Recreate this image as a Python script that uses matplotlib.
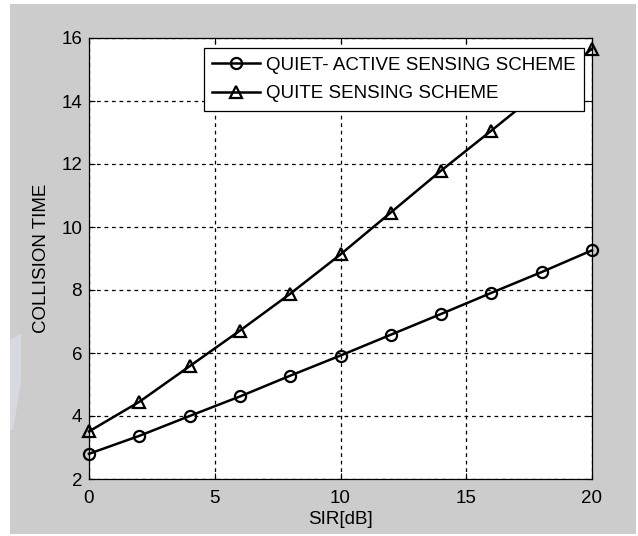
import matplotlib
matplotlib.use("Agg")
import matplotlib.pyplot as plt
from matplotlib.patches import Rectangle, Polygon

plt.rcParams['font.family'] = ['Liberation Sans', 'DejaVu Sans']

sir = [0, 2, 4, 6, 8, 10, 12, 14, 16, 18, 20]
quiet_active = [2.80, 3.37, 4.00, 4.62, 5.28, 5.92, 6.58, 7.24, 7.91, 8.57, 9.26]
quite_sensing = [3.51, 4.45, 5.58, 6.71, 7.88, 9.13, 10.46, 11.79, 13.06, 14.35, 15.66]
labels = ["QUIET- ACTIVE SENSING SCHEME", "QUITE SENSING SCHEME"]
xticks = [0, 5, 10, 15, 20]
yticks = [2, 4, 6, 8, 10, 12, 14, 16]

W, H = 638, 536
fig = plt.figure(figsize=(W / 100, H / 100), dpi=100, facecolor='white')

# gray figure panel with thin white margins
fig.patches.append(Rectangle((10 / W, 2 / H), 626 / W, 530 / H, transform=fig.transFigure,
                             facecolor='#cccccc', edgecolor='none', zorder=-2))
# faint watermark sliver at left
wm = [(10, 196), (21, 203), (21, 154), (13, 106), (10, 106)]
fig.patches.append(Polygon([(x / W, y / H) for x, y in wm], closed=True,
                           transform=fig.transFigure, facecolor='#d6d9df',
                           edgecolor='none', zorder=-1))

ax = fig.add_axes([89 / W, (H - 479) / H, 503 / W, 441 / H])
ax.set_facecolor('white')

ax.plot(sir, quiet_active, color='black', lw=1.8, marker='o', ms=8,
        mfc='none', mec='black', mew=1.6, label=labels[0], zorder=3, clip_on=False)
ax.plot(sir, quite_sensing, color='black', lw=1.8, marker='^', ms=8.5,
        mfc='none', mec='black', mew=1.6, label=labels[1], zorder=3, clip_on=False)

ax.set_xlim(0, 20)
ax.set_ylim(2, 16)
ax.set_xticks(xticks)
ax.set_yticks(yticks)
ax.grid(True, color='black', linestyle=(0, (3, 3)), linewidth=0.9)
ax.tick_params(direction='in', length=4, width=0.8, top=True, right=True,
               labelsize=13.5, colors='black')
ax.tick_params(axis='x', pad=8)
ax.tick_params(axis='y', pad=5)
for s in ax.spines.values():
    s.set_linewidth(0.9)
    s.set_color('black')

ax.set_xlabel('SIR[dB]', fontsize=13.5, labelpad=3)
ax.set_ylabel('COLLISION TIME', fontsize=13.5, labelpad=8)

leg = ax.legend(loc='upper right', bbox_to_anchor=(0.984, 0.977), borderaxespad=0,
                fontsize=13.5, fancybox=False, framealpha=1, edgecolor='black',
                handlelength=2.55, handletextpad=0.3, borderpad=0.45, labelspacing=0.6)
leg.get_frame().set_linewidth(0.9)
leg.set_zorder(5)

fig.savefig('out.png', dpi=100, facecolor=fig.get_facecolor())
